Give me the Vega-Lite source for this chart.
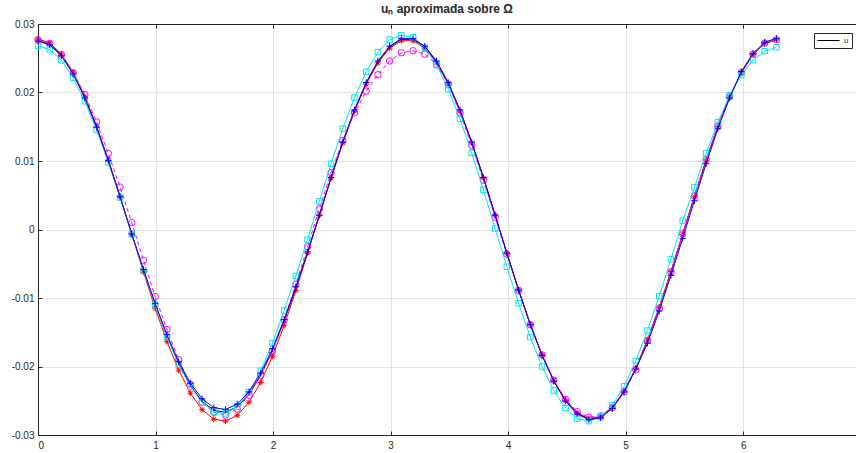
{
  "$schema": "https://vega.github.io/schema/vega-lite/v6.json",
  "autosize": "none",
  "padding": {"left": 38, "top": 24, "right": 0, "bottom": 18},
  "width": 818,
  "height": 411,
  "background": "#ffffff",
  "title": {"text": "uₙ aproximada sobre Ω", "fontSize": 12, "fontWeight": "bold", "font": "Liberation Sans", "color": "#262626", "offset": 3, "anchor": "middle"},
  "config": {
    "view": {"stroke": null},
    "axis": {"labelFont": "Liberation Sans", "labelFontSize": 10, "labelColor": "#262626", "domainColor": "#262626", "tickColor": "#262626", "gridColor": "#e3e3e3", "gridWidth": 1, "domainWidth": 1, "tickWidth": 1},
    "axisY": {"grid": true, "tickSize": -4, "labelPadding": 8, "title": null,
              "labelExpr": "datum.value == 0 ? '0' : (datum.value < 0 ? '-' + format(-datum.value, '.2f') : format(datum.value, '.2f'))"}
  },
  "data": {"values": [
    {"x": 0.0000, "u": 0.02760, "r": 0.02780, "m": 0.02770, "c": 0.02680, "b": 0.02750},
    {"x": 0.0997, "u": 0.02705, "r": 0.02725, "m": 0.02715, "c": 0.02627, "b": 0.02696},
    {"x": 0.1995, "u": 0.02543, "r": 0.02562, "m": 0.02553, "c": 0.02470, "b": 0.02534},
    {"x": 0.2992, "u": 0.02280, "r": 0.02297, "m": 0.02289, "c": 0.02214, "b": 0.02272},
    {"x": 0.3989, "u": 0.01927, "r": 0.01941, "m": 0.01970, "c": 0.01871, "b": 0.01920},
    {"x": 0.4987, "u": 0.01498, "r": 0.01508, "m": 0.01570, "c": 0.01454, "b": 0.01492},
    {"x": 0.5984, "u": 0.01008, "r": 0.01016, "m": 0.01110, "c": 0.00979, "b": 0.01005},
    {"x": 0.6981, "u": 0.00479, "r": 0.00483, "m": 0.00620, "c": 0.00465, "b": 0.00477},
    {"x": 0.7979, "u": -0.00066, "r": -0.00070, "m": 0.00100, "c": -0.00067, "b": -0.00065},
    {"x": 0.8976, "u": -0.00594, "r": -0.00623, "m": -0.00450, "c": -0.00599, "b": -0.00585},
    {"x": 0.9973, "u": -0.01098, "r": -0.01152, "m": -0.00980, "c": -0.01106, "b": -0.01082},
    {"x": 1.0971, "u": -0.01558, "r": -0.01634, "m": -0.01460, "c": -0.01570, "b": -0.01535},
    {"x": 1.1968, "u": -0.01957, "r": -0.02053, "m": -0.01900, "c": -0.01972, "b": -0.01928},
    {"x": 1.2965, "u": -0.02279, "r": -0.02390, "m": -0.02260, "c": -0.02296, "b": -0.02244},
    {"x": 1.3963, "u": -0.02509, "r": -0.02631, "m": -0.02520, "c": -0.02528, "b": -0.02471},
    {"x": 1.4960, "u": -0.02640, "r": -0.02769, "m": -0.02670, "c": -0.02664, "b": -0.02601},
    {"x": 1.5957, "u": -0.02667, "r": -0.02797, "m": -0.02710, "c": -0.02684, "b": -0.02627},
    {"x": 1.6955, "u": -0.02587, "r": -0.02713, "m": -0.02620, "c": -0.02587, "b": -0.02549},
    {"x": 1.7952, "u": -0.02406, "r": -0.02523, "m": -0.02420, "c": -0.02377, "b": -0.02370},
    {"x": 1.8949, "u": -0.02128, "r": -0.02232, "m": -0.02130, "c": -0.02063, "b": -0.02096},
    {"x": 1.9947, "u": -0.01766, "r": -0.01852, "m": -0.01780, "c": -0.01658, "b": -0.01740},
    {"x": 2.0944, "u": -0.01335, "r": -0.01400, "m": -0.01320, "c": -0.01182, "b": -0.01315},
    {"x": 2.1941, "u": -0.00850, "r": -0.00892, "m": -0.00800, "c": -0.00678, "b": -0.00838},
    {"x": 2.2939, "u": -0.00332, "r": -0.00348, "m": -0.00250, "c": -0.00147, "b": -0.00327},
    {"x": 2.3936, "u": 0.00208, "r": 0.00207, "m": 0.00300, "c": 0.00410, "b": 0.00209},
    {"x": 2.4933, "u": 0.00756, "r": 0.00750, "m": 0.00830, "c": 0.00961, "b": 0.00759},
    {"x": 2.5931, "u": 0.01273, "r": 0.01264, "m": 0.01300, "c": 0.01473, "b": 0.01277},
    {"x": 2.6928, "u": 0.01740, "r": 0.01727, "m": 0.01700, "c": 0.01926, "b": 0.01746},
    {"x": 2.7925, "u": 0.02137, "r": 0.02122, "m": 0.02020, "c": 0.02303, "b": 0.02145},
    {"x": 2.8923, "u": 0.02451, "r": 0.02433, "m": 0.02260, "c": 0.02590, "b": 0.02460},
    {"x": 2.9920, "u": 0.02666, "r": 0.02647, "m": 0.02460, "c": 0.02772, "b": 0.02676},
    {"x": 3.0917, "u": 0.02776, "r": 0.02756, "m": 0.02580, "c": 0.02837, "b": 0.02786},
    {"x": 3.1915, "u": 0.02776, "r": 0.02756, "m": 0.02610, "c": 0.02806, "b": 0.02786},
    {"x": 3.2912, "u": 0.02666, "r": 0.02647, "m": 0.02560, "c": 0.02655, "b": 0.02676},
    {"x": 3.3909, "u": 0.02451, "r": 0.02433, "m": 0.02410, "c": 0.02400, "b": 0.02460},
    {"x": 3.4907, "u": 0.02137, "r": 0.02122, "m": 0.02120, "c": 0.02048, "b": 0.02145},
    {"x": 3.5904, "u": 0.01740, "r": 0.01727, "m": 0.01700, "c": 0.01615, "b": 0.01746},
    {"x": 3.6901, "u": 0.01273, "r": 0.01264, "m": 0.01230, "c": 0.01119, "b": 0.01277},
    {"x": 3.7899, "u": 0.00756, "r": 0.00750, "m": 0.00720, "c": 0.00578, "b": 0.00759},
    {"x": 3.8896, "u": 0.00208, "r": 0.00207, "m": 0.00180, "c": 0.00014, "b": 0.00209},
    {"x": 3.9893, "u": -0.00344, "r": -0.00343, "m": -0.00360, "c": -0.00543, "b": -0.00346},
    {"x": 4.0891, "u": -0.00882, "r": -0.00879, "m": -0.00890, "c": -0.01078, "b": -0.00885},
    {"x": 4.1888, "u": -0.01385, "r": -0.01380, "m": -0.01390, "c": -0.01570, "b": -0.01390},
    {"x": 4.2885, "u": -0.01832, "r": -0.01826, "m": -0.01830, "c": -0.01999, "b": -0.01839},
    {"x": 4.3883, "u": -0.02208, "r": -0.02200, "m": -0.02200, "c": -0.02350, "b": -0.02216},
    {"x": 4.4880, "u": -0.02496, "r": -0.02487, "m": -0.02480, "c": -0.02608, "b": -0.02505},
    {"x": 4.5877, "u": -0.02684, "r": -0.02675, "m": -0.02660, "c": -0.02762, "b": -0.02694},
    {"x": 4.6875, "u": -0.02767, "r": -0.02757, "m": -0.02740, "c": -0.02797, "b": -0.02777},
    {"x": 4.7872, "u": -0.02739, "r": -0.02729, "m": -0.02720, "c": -0.02740, "b": -0.02749},
    {"x": 4.8869, "u": -0.02603, "r": -0.02594, "m": -0.02600, "c": -0.02564, "b": -0.02612},
    {"x": 4.9867, "u": -0.02364, "r": -0.02355, "m": -0.02370, "c": -0.02287, "b": -0.02372},
    {"x": 5.0864, "u": -0.02031, "r": -0.02023, "m": -0.02050, "c": -0.01919, "b": -0.02038},
    {"x": 5.1861, "u": -0.01617, "r": -0.01611, "m": -0.01620, "c": -0.01475, "b": -0.01660},
    {"x": 5.2859, "u": -0.01139, "r": -0.01135, "m": -0.01150, "c": -0.00973, "b": -0.01190},
    {"x": 5.3856, "u": -0.00616, "r": -0.00614, "m": -0.00620, "c": -0.00432, "b": -0.00670},
    {"x": 5.4853, "u": -0.00069, "r": -0.00069, "m": -0.00060, "c": 0.00126, "b": -0.00130},
    {"x": 5.5851, "u": 0.00481, "r": 0.00481, "m": 0.00490, "c": 0.00614, "b": 0.00420},
    {"x": 5.6848, "u": 0.01012, "r": 0.01012, "m": 0.01020, "c": 0.01112, "b": 0.00960},
    {"x": 5.7845, "u": 0.01503, "r": 0.01503, "m": 0.01510, "c": 0.01566, "b": 0.01470},
    {"x": 5.8843, "u": 0.01934, "r": 0.01934, "m": 0.01940, "c": 0.01957, "b": 0.01920},
    {"x": 5.9840, "u": 0.02289, "r": 0.02289, "m": 0.02290, "c": 0.02256, "b": 0.02305},
    {"x": 6.0837, "u": 0.02553, "r": 0.02553, "m": 0.02560, "c": 0.02474, "b": 0.02571},
    {"x": 6.1835, "u": 0.02715, "r": 0.02715, "m": 0.02720, "c": 0.02603, "b": 0.02735},
    {"x": 6.2832, "u": 0.02770, "r": 0.02770, "m": 0.02770, "c": 0.02660, "b": 0.02790}
  ]},
  "layer": [
    {
      "mark": {"type": "line", "strokeWidth": 1},
      "encoding": {
        "x": {"field": "x", "type": "quantitative", "scale": {"domain": [0, 6.96], "nice": false, "zero": false},
              "axis": {"orient": "bottom", "values": [0, 1, 2, 3, 4, 5, 6], "grid": true, "tickSize": -4, "labelPadding": 9, "title": null, "format": "d"}},
        "y": {"field": "u", "type": "quantitative", "scale": {"domain": [-0.03, 0.03], "nice": false, "zero": false},
              "axis": {"values": [-0.03, -0.02, -0.01, 0, 0.01, 0.02, 0.03]}},
        "color": {"datum": "u", "type": "nominal", "scale": {"domain": ["u"], "range": ["#000000"]},
                  "legend": {"orient": "none", "legendX": 776, "legendY": 9, "title": null, "strokeColor": "#262626", "fillColor": "#ffffff", "padding": 3,
                             "labelFontSize": 8, "labelFont": "Liberation Sans", "labelColor": "#262626",
                             "symbolType": "M-1,0L4.5,0", "symbolSize": 64, "symbolStrokeWidth": 1, "labelOffset": 18, "cornerRadius": 0}}
      }
    },
    {
      "mark": {"type": "line", "stroke": "#ff0000", "strokeWidth": 1,
               "point": {"shape": "M-1,0L1,0M0,-1L0,1M-0.7,-0.7L0.7,0.7M-0.7,0.7L0.7,-0.7", "filled": false, "stroke": "#ff0000", "strokeWidth": 1, "size": 36}},
      "encoding": {
        "x": {"field": "x", "type": "quantitative", "scale": {"domain": [0, 6.96], "nice": false, "zero": false}, "axis": null},
        "y": {"field": "r", "type": "quantitative", "scale": {"domain": [-0.03, 0.03], "nice": false, "zero": false},
              "axis": {"values": [-0.03, -0.02, -0.01, 0, 0.01, 0.02, 0.03]}}
      }
    },
    {
      "mark": {"type": "line", "stroke": "#ff00ff", "strokeWidth": 1, "strokeDash": [4, 3],
               "point": {"shape": "circle", "filled": false, "stroke": "#ff00ff", "strokeWidth": 1, "size": 42}},
      "encoding": {
        "x": {"field": "x", "type": "quantitative", "scale": {"domain": [0, 6.96], "nice": false, "zero": false}, "axis": null},
        "y": {"field": "m", "type": "quantitative", "scale": {"domain": [-0.03, 0.03], "nice": false, "zero": false},
              "axis": {"values": [-0.03, -0.02, -0.01, 0, 0.01, 0.02, 0.03]}}
      }
    },
    {
      "mark": {"type": "line", "stroke": "#00e5f0", "strokeWidth": 1,
               "point": {"shape": "square", "filled": false, "stroke": "#00e5f0", "strokeWidth": 1, "size": 30}},
      "encoding": {
        "x": {"field": "x", "type": "quantitative", "scale": {"domain": [0, 6.96], "nice": false, "zero": false}, "axis": null},
        "y": {"field": "c", "type": "quantitative", "scale": {"domain": [-0.03, 0.03], "nice": false, "zero": false},
              "axis": {"values": [-0.03, -0.02, -0.01, 0, 0.01, 0.02, 0.03]}}
      }
    },
    {
      "mark": {"type": "line", "stroke": "#0000ff", "strokeWidth": 1,
               "point": {"shape": "M-1,0L1,0M0,-1L0,1", "filled": false, "stroke": "#0000ff", "strokeWidth": 1, "size": 42}},
      "encoding": {
        "x": {"field": "x", "type": "quantitative", "scale": {"domain": [0, 6.96], "nice": false, "zero": false}, "axis": null},
        "y": {"field": "b", "type": "quantitative", "scale": {"domain": [-0.03, 0.03], "nice": false, "zero": false},
              "axis": {"values": [-0.03, -0.02, -0.01, 0, 0.01, 0.02, 0.03]}}
      }
    },
    {
      "mark": {"type": "rule", "opacity": 0},
      "encoding": {
        "x": {"field": "x", "type": "quantitative", "scale": {"domain": [0, 6.96], "nice": false, "zero": false},
              "axis": {"orient": "top", "values": [0, 1, 2, 3, 4, 5, 6], "grid": false, "labels": false, "tickSize": -4, "title": null}}
      }
    }
  ]
}
